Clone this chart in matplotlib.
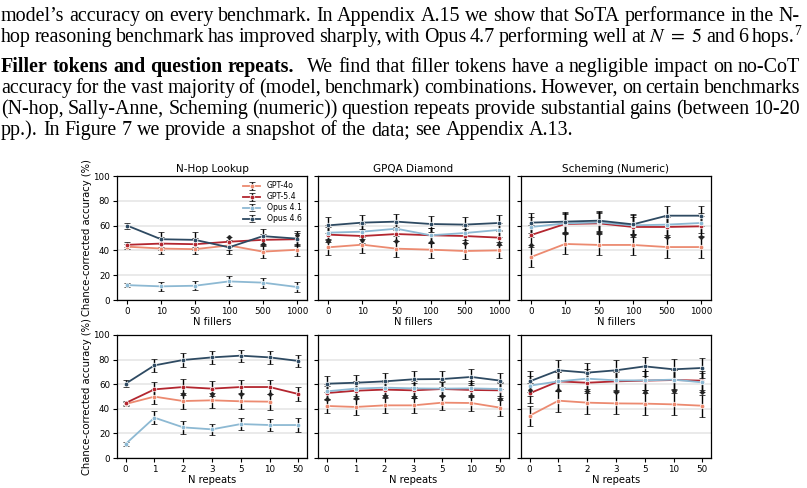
import matplotlib
matplotlib.use("Agg")
import matplotlib.pyplot as plt
import numpy as np

plt.rcParams['mathtext.fontset'] = 'stix'
plt.rcParams['font.family'] = 'DejaVu Sans'

W, H = 807, 488

models = ["GPT-4o", "GPT-5.4", "Opus 4.1", "Opus 4.6"]
colors = ["#ec8a70", "#b3262f", "#8db9d3", "#2e4a62"]

fillers = ["0", "10", "50", "100", "500", "1000"]
repeats = ["0", "1", "2", "3", "5", "10", "50"]
nan = np.nan

# ---- filler tokens (top row) ----
nhop_fill = [[43, 41.5, 41, 44, 39, 40.5],
             [44.5, 45.5, 45, 47, 48.5, 49],
             [12, 11, 11.5, 15, 14, 10.5],
             [60, 49, 48.5, 42.5, 51.5, 49.5]]
nhop_fill_err = [[2, 4, 4, 4, 5, 5],
                 [2, 5, 5, 4, 5, 5],
                 [1.5, 3.5, 3.5, 4, 4, 4],
                 [2.5, 6, 6, 5, 6, 6]]
nhop_fill_blk = [nan, nan, nan, 50.5, 45, 52.5]

gpqa_fill = [[42.5, 44.6, 41.4, 40.6, 39.5, 40],
             [52.7, 51.6, 53.2, 52.2, 51.6, 50.3],
             [54.3, 55.1, 57.5, 52.2, 54, 56.5],
             [60.2, 62.4, 63.2, 61.3, 60.8, 62.1]]
gpqa_fill_err = [[6.5, 6.5, 6.5, 6.5, 6.5, 6.5],
                 [6, 6, 6, 6, 6, 6],
                 [6, 6, 6, 6, 6, 6],
                 [6.5, 6.5, 6.5, 6.5, 6.5, 6.5]]
gpqa_fill_blk = [47.6, 48.4, 47.6, 46.5, 46.2, 44.9]

schem_fill = [[34.7, 45.2, 44.4, 44.4, 42.7, 42.7],
              [52.4, 61.3, 61.8, 58.9, 58.9, 59.4],
              [58.9, 61.8, 62.6, 60.2, 60.8, 62.1],
              [62.4, 63.2, 64, 61, 68, 68]]
schem_fill_err = [[8, 8.5, 8.5, 8.5, 8.5, 8.5],
                  [8, 8, 8, 8, 8, 8],
                  [8, 8, 8, 8, 8, 8],
                  [8, 8, 8, 8, 8, 8]]
schem_fill_blk = [44, 53.8, 54.3, 52.4, 51, 51]

# ---- question repeats (bottom row) ----
nhop_rep = [[43.9, 49.9, 46.3, 46.9, 46.1, 45.8, nan],
            [44.7, 55.8, 57.7, 56.4, 57.7, 57.7, 52],
            [11.4, 32.8, 24.9, 23.3, 27.6, 26.8, 26.8],
            [60.4, 75.3, 79.7, 81.8, 83.2, 81.8, 78.9]]
nhop_rep_err = [[2, 6, 6.5, 6, 6.5, 6.5, 0],
                [2, 6, 6.5, 6, 6, 6, 6],
                [2, 5.5, 5, 4.5, 5, 5, 5.5],
                [3, 5.5, 5.5, 5, 5, 5, 5]]
nhop_rep_blk = [nan, nan, 52, 52, 52, 52, nan]

gpqa_rep = [[42.3, 41.5, 42.8, 42.8, 45, 44.7, 40.9],
            [52.8, 54.7, 55.6, 55, 56.1, 55.3, 55],
            [54.2, 56.4, 57.2, 56.6, 56.4, 56.6, 56.1],
            [60.4, 61.2, 62.3, 64, 64.2, 65.9, 62.9]]
gpqa_rep_err = [[6, 6.5, 6, 6, 6, 6.5, 6.5],
                [6, 6, 6, 6, 6, 6, 6],
                [6, 6, 6, 6, 6, 6, 6],
                [6.5, 6.5, 6.5, 6.5, 6.5, 6.5, 6.5]]
gpqa_rep_blk = [47.7, 48.8, 50.1, 49.6, 50.7, 50.5, 48.2]

schem_rep = [[34.4, 46.6, 45, 44.4, 44.2, 43.6, 42.5],
             [52.6, 62.3, 61.2, 62.3, 62.9, 63.4, 62.9],
             [58.8, 62.3, 64.5, 63.1, 63.1, 63.7, 61.5],
             [62.3, 71.3, 69.4, 71.3, 74.5, 72.1, 73.2]]
schem_rep_err = [[8, 9, 9.5, 9, 9, 9, 9],
                 [8, 8, 8, 8, 8, 8, 8],
                 [8, 8, 8, 8, 8, 8, 8],
                 [8.5, 8, 8, 8, 8, 8, 8]]
schem_rep_blk = [55.5, 55, 54.5, 53.7, 53.7, 54.2, 53.4]

panels = [
    ("N-Hop Lookup", fillers, "N fillers", nhop_fill, nhop_fill_err, nhop_fill_blk),
    ("GPQA Diamond", fillers, "N fillers", gpqa_fill, gpqa_fill_err, gpqa_fill_blk),
    ("Scheming (Numeric)", fillers, "N fillers", schem_fill, schem_fill_err, schem_fill_blk),
    (None, repeats, "N repeats", nhop_rep, nhop_rep_err, nhop_rep_blk),
    (None, repeats, "N repeats", gpqa_rep, gpqa_rep_err, gpqa_rep_blk),
    (None, repeats, "N repeats", schem_rep, schem_rep_err, schem_rep_blk),
]

fig = plt.figure(figsize=(W / 100, H / 100), dpi=100)

# ---------- paper text above the figure ----------
serif = 'Liberation Serif'
fs = 14.4
renderer = fig.canvas.get_renderer()


def text_width(s, bold=False):
    t = fig.text(0, 0, s, fontsize=fs, family=serif, weight='bold' if bold else 'normal')
    w = t.get_window_extent(renderer).width
    t.remove()
    return w


SPACE = text_width("a a") - 2 * text_width("a")


def put_line(tokens, ypix, x0=1, x1=800, justify=True):
    # tokens: (text, bold, glue) ; glue = extra px before token
    objs = []
    for t, bold, glue in tokens:
        o = fig.text(0, 1 - ypix / H, t, fontsize=fs, family=serif,
                     weight='bold' if bold else 'normal', va='baseline')
        objs.append((o, glue))
    widths = [o.get_window_extent(renderer).width for o, g in objs]
    ngaps = len(objs) - 1
    extra = sum(g for o, g in objs[1:])
    if justify and ngaps:
        gap = (x1 - x0 - sum(widths) - extra) / ngaps
    else:
        gap = SPACE
    x = x0
    for i, ((o, g), w) in enumerate(zip(objs, widths)):
        if i > 0:
            x += gap + g
        o.set_x(x / W)
        x += w
    return x


def words(s, bold=False):
    return [(w, bold, 0) for w in s.split()]


put_line(words("model’s accuracy on every benchmark. In Appendix A.15 we show that SoTA performance in the N-"), 21)
endx = put_line(words("hop reasoning benchmark has improved sharply, with Opus 4.7 performing well at") +
                [(r"$N\ =\ 5$", False, 0)] + words("and 6 hops."), 42, x1=795)
fig.text((endx - 1) / W, 1 - 35 / H, "7", fontsize=fs * 0.68, family=serif, va='baseline')
put_line(words("Filler tokens and question repeats.", True) +
         [("We", False, 8)] + words("find that filler tokens have a negligible impact on no-CoT"), 72)
put_line(words("accuracy for the vast majority of (model, benchmark) combinations. However, on certain benchmarks"), 93)
put_line(words("(N-hop, Sally-Anne, Scheming (numeric)) question repeats provide substantial gains (between 10-20"), 114)
put_line(words("pp.). In Figure 7 we provide a snapshot of the data; see Appendix A.13."), 135, justify=False)

# ---------- chart panels ----------
lefts = [117, 318, 521]
widths_px = [190, 191, 190]
rows = [(176, 300), (335, 458)]

for k, (title, cats, xlab, vals, errs, blk) in enumerate(panels):
    r, c = divmod(k, 3)
    top, bot = rows[r]
    ax = fig.add_axes([lefts[c] / W, 1 - bot / H, widths_px[c] / W, (bot - top) / H])
    x = np.arange(len(cats))
    ax.grid(axis='y', color='#e6e6e6', lw=1.2, zorder=0)
    ax.set_axisbelow(True)
    for m, col, v, e in zip(models, colors, vals, errs):
        ax.errorbar(x, v, yerr=e, color=col, ecolor='black', elinewidth=1.0,
                    capsize=2, capthick=1.0, marker='o', ms=3.3, mec='white',
                    mew=0.5, lw=1.3, label=m, zorder=3)
    ax.plot(x, blk, ls='none', marker='P', ms=2.3, color='#222222', zorder=4)
    ax.set_ylim(0, 100)
    ax.set_xlim(-0.3, len(cats) - 0.7)
    ax.set_xticks(x)
    ax.set_xticklabels(cats)
    ax.set_yticks([0, 20, 40, 60, 80, 100])
    ax.tick_params(labelsize=6.3, length=3, width=0.8, pad=2)
    ax.set_xlabel(xlab, fontsize=7.2, labelpad=1)
    for s in ax.spines.values():
        s.set_linewidth(0.9)
    if c == 0:
        ax.set_ylabel("Chance-corrected accuracy (%)", fontsize=7.2, labelpad=1)
    else:
        ax.set_yticklabels([])
    if title:
        ax.set_title(title, fontsize=7.5, pad=3)
    if k == 0:
        ax.legend(loc='upper right', fontsize=5.6, frameon=False,
                  handlelength=2.2, labelspacing=0.25, borderaxespad=0.3)

fig.savefig("out.png", dpi=100)
